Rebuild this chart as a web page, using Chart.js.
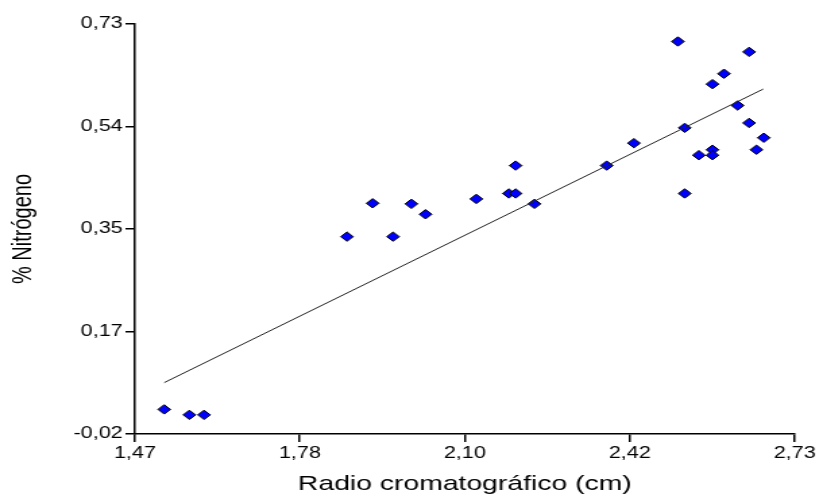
<!DOCTYPE html>
<html>
<head>
<meta charset="utf-8">
<script src="https://cdn.jsdelivr.net/npm/chart.js@4.4.1/dist/chart.umd.min.js"></script>
<style>
  html, body { margin: 0; padding: 0; background: #fff; overflow: hidden; }
  /* the reference image is stretched sideways, so the chart is drawn narrow and widened */
  #wrap { width: 610px; height: 497px; transform: scaleX(1.3492); transform-origin: 0 0; }
</style>
</head>
<body>
<div id="wrap"><canvas id="chart" width="610" height="497"></canvas></div>
<script>
// Radio cromatográfico (cm) vs % Nitrógeno
var radio = [1.526, 1.574, 1.602, 1.875, 1.924, 1.963, 1.998, 2.025, 2.122, 2.184, 2.197, 2.197, 2.233, 2.371,
             2.423, 2.507, 2.520, 2.520, 2.547, 2.573, 2.573, 2.573, 2.595, 2.621, 2.643, 2.643, 2.671, 2.657];
var nitrogeno = [0.025, 0.015, 0.015, 0.341, 0.402, 0.341, 0.401, 0.382, 0.410, 0.420, 0.420, 0.471, 0.401, 0.471,
                 0.512, 0.698, 0.540, 0.420, 0.490, 0.500, 0.490, 0.620, 0.639, 0.581, 0.679, 0.549, 0.522, 0.500];

// fitted line, end points
var ajusteX = [1.526, 2.670];
var ajusteY = [0.074, 0.611];

var xTicks = [1.47, 1.785, 2.10, 2.415, 2.73];
var xTickLabels = ['1,47', '1,78', '2,10', '2,42', '2,73'];
var yTicks = [-0.02, 0.1675, 0.355, 0.5425, 0.73];
var yTickLabels = ['-0,02', '0,17', '0,35', '0,54', '0,73'];

var puntos = radio.map(function (x, i) { return { x: x, y: nitrogeno[i] }; });
var linea = ajusteX.map(function (x, i) { return { x: x, y: ajusteY[i] }; });

var tickFont = { family: 'Liberation Sans, Arial, sans-serif', size: 16 };

var ctx = document.getElementById('chart').getContext('2d');
new Chart(ctx, {
    type: 'scatter',
    data: {
        datasets: [{
            label: 'ajuste',
            data: linea,
            showLine: true,
            borderColor: '#222',
            borderWidth: 1,
            pointRadius: 0,
            order: 0
        }, {
            label: '% Nitrógeno',
            data: puntos,
            pointStyle: 'rectRot',
            pointRadius: 4.7,
            backgroundColor: '#0000ff',
            borderColor: '#000',
            borderWidth: 1,
            order: 1
        }]
    },
    options: {
        responsive: false,
        animation: false,
        layout: { padding: { top: 24, right: 21, left: 0, bottom: 0 } },
        plugins: {
            legend: { display: false },
            tooltip: { enabled: false }
        },
        scales: {
            x: {
                type: 'linear',
                min: 1.47,
                max: 2.73,
                afterBuildTicks: function (scale) {
                    scale.ticks = xTicks.map(function (v) { return { value: v }; });
                },
                afterFit: function (scale) { scale.height = 63; },
                grid: { drawOnChartArea: false, drawTicks: true, tickLength: 8, color: '#000', lineWidth: 1.5 },
                border: { display: true, color: '#000', width: 1.5 },
                ticks: {
                    autoSkip: false,
                    maxRotation: 0,
                    padding: 2,
                    color: '#000',
                    font: tickFont,
                    callback: function (v, i) { return xTickLabels[i]; }
                },
                title: {
                    display: true,
                    text: 'Radio cromatográfico (cm)',
                    color: '#000',
                    font: { family: 'Liberation Sans, Arial, sans-serif', size: 21 },
                    padding: { top: 0, bottom: 0 }
                }
            },
            y: {
                type: 'linear',
                min: -0.02,
                max: 0.73,
                afterBuildTicks: function (scale) {
                    scale.ticks = yTicks.map(function (v) { return { value: v }; });
                },
                afterFit: function (scale) { scale.width = 100; },
                grid: { drawOnChartArea: false, drawTicks: true, tickLength: 7, color: '#000', lineWidth: 1.5 },
                border: { display: true, color: '#000', width: 1.5 },
                ticks: {
                    autoSkip: false,
                    padding: 2,
                    color: '#000',
                    font: tickFont,
                    callback: function (v, i) { return yTickLabels[i]; }
                },
                title: {
                    display: true,
                    text: '% Nitrógeno',
                    color: '#000',
                    font: { family: 'Liberation Sans, Arial, sans-serif', size: 20 },
                    padding: { top: 5, bottom: 0 }
                }
            }
        }
    }
});
</script>
</body>
</html>
